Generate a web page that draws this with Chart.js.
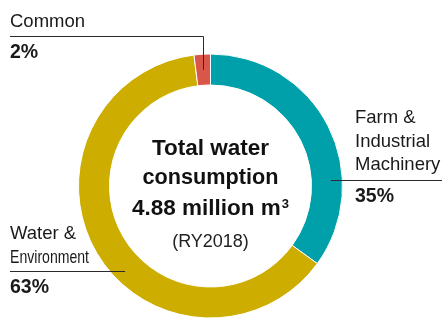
<!DOCTYPE html>
<html lang="en">
  <head>
    <meta charset="UTF-8" />
    <title>Water consumption by business</title>
    <script src="https://cdn.jsdelivr.net/npm/chart.js@4.4.0/dist/chart.umd.min.js"></script>
    <style>
      html,
      body {
        margin: 0;
        padding: 0;
        background: #fff;
      }
    </style>
  </head>
  <body>
    <canvas id="waterChart" width="442" height="320"></canvas>

    <script>
      // share of total water consumption per business
      const segments = ["Farm & Industrial Machinery", "Water & Environment", "Common"];
      const labelLines = [["Farm &", "Industrial", "Machinery"], ["Water &", "Environment"], ["Common"]];
      const shares = [35, 63, 2];
      const totalAmount = "4.88";
      const totalUnit = "million m";
      const reportYear = "RY2018";

      const sliceColors = ["#00a0aa", "#cdae00", "#d8574a"];
      const FONT = "'Liberation Sans', Arial, sans-serif";

      // where each callout sits: text column, rule and percentage
      const callouts = [
        { x: 355, top: 123, lead: 23.5, ruleY: 180, ruleTo: 442, pctY: 202 },
        { x: 10, top: 239, lead: 23.5, ruleY: 271, ruleTo: 10, pctY: 293, squeeze: { 1: 79 } },
        { x: 10, top: 27, lead: 0, ruleY: 36, ruleTo: 10, pctY: 58, elbow: true },
      ];

      const calloutPlugin = {
        id: "callouts",
        afterDraw(chart) {
          const ctx = chart.ctx;
          const arcs = chart.getDatasetMeta(0).data;
          const cx = arcs[0].x;
          const cy = arcs[0].y;
          const rMid = (arcs[0].outerRadius + arcs[0].innerRadius) / 2 + 4;

          ctx.save();
          ctx.fillStyle = "#1a1a1a";
          ctx.strokeStyle = "#2b2b2b";
          ctx.lineWidth = 1;
          ctx.textBaseline = "alphabetic";
          ctx.textAlign = "left";

          callouts.forEach((c, i) => {
            ctx.font = "18.5px " + FONT;
            labelLines[i].forEach((line, j) => {
              const maxW = c.squeeze && c.squeeze[j];
              if (maxW) ctx.fillText(line, c.x, c.top + j * c.lead, maxW);
              else ctx.fillText(line, c.x, c.top + j * c.lead);
            });
            ctx.font = "bold 19.5px " + FONT;
            ctx.fillText(shares[i] + "%", c.x, c.pctY);

            ctx.beginPath();
            if (c.elbow) {
              // drop straight down into the middle of the slice
              const a = (arcs[i].startAngle + arcs[i].endAngle) / 2;
              const r = rMid - 4;
              const ex = Math.round(cx + r * Math.cos(a)) + 0.5;
              const ey = cy + r * Math.sin(a);
              ctx.moveTo(c.ruleTo, c.ruleY + 0.5);
              ctx.lineTo(ex, c.ruleY + 0.5);
              ctx.lineTo(ex, ey);
            } else {
              const dy = c.ruleY - cy;
              const dx = Math.sqrt(rMid * rMid - dy * dy);
              const ex = c.ruleTo > cx ? cx + dx : cx - dx;
              ctx.moveTo(c.ruleTo, c.ruleY + 0.5);
              ctx.lineTo(ex, c.ruleY + 0.5);
            }
            ctx.stroke();
          });

          // centre caption
          ctx.textAlign = "center";
          ctx.fillStyle = "#111";
          ctx.font = "bold 22.5px " + FONT;
          ctx.fillText("Total water", cx, cy - 31);
          ctx.fillText("consumption", cx, cy - 2, 136);

          const main = totalAmount + " " + totalUnit;
          const wMain = ctx.measureText(main).width;
          ctx.font = "bold 13px " + FONT;
          const wSup = ctx.measureText("3").width;
          const left = cx - (wMain + wSup + 1) / 2;
          ctx.textAlign = "left";
          ctx.font = "bold 22.5px " + FONT;
          ctx.fillText(main, left, cy + 29);
          ctx.font = "bold 13px " + FONT;
          ctx.fillText("3", left + wMain + 1, cy + 22);

          ctx.textAlign = "center";
          ctx.font = "18px " + FONT;
          ctx.fillStyle = "#222";
          ctx.fillText("(" + reportYear + ")", cx, cy + 61);
          ctx.restore();
        },
      };

      new Chart(document.getElementById("waterChart"), {
        type: "doughnut",
        data: {
          labels: segments,
          datasets: [
            {
              data: shares,
              backgroundColor: sliceColors,
              borderColor: "#ffffff",
              borderWidth: 1,
            },
          ],
        },
        options: {
          responsive: false,
          animation: false,
          cutout: "76.5%",
          rotation: 0,
          layout: { padding: { top: 53, bottom: 1, left: 78, right: 99 } },
          plugins: {
            legend: { display: false },
            tooltip: { enabled: false },
          },
        },
        plugins: [calloutPlugin],
      });
    </script>
  </body>
</html>
